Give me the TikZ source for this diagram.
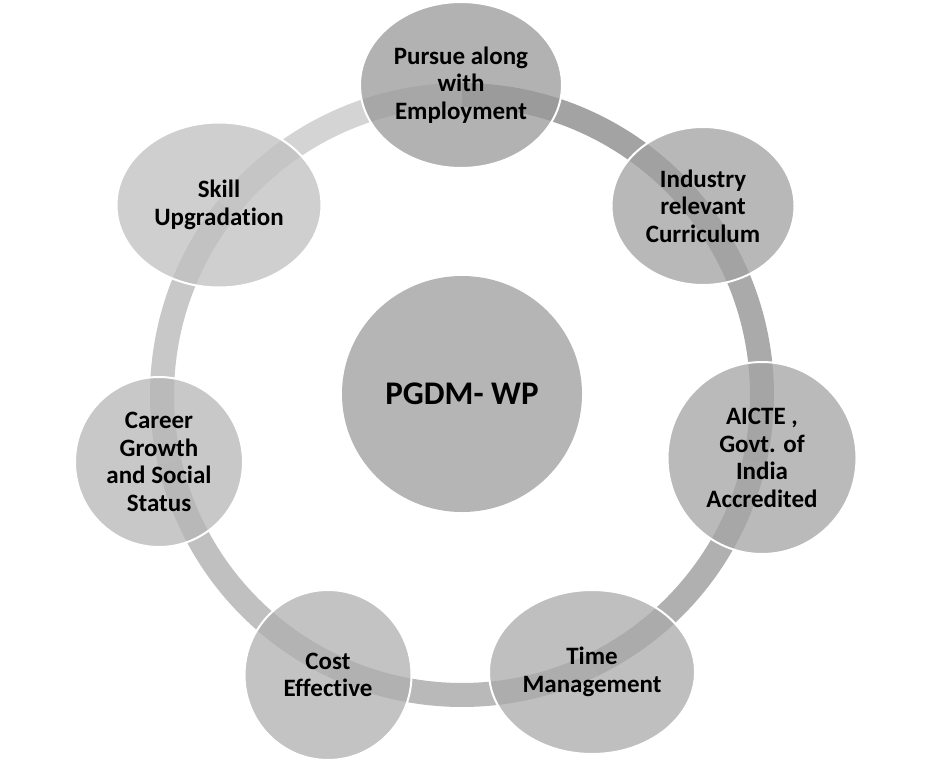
\documentclass[tikz,border=0pt]{standalone}
\usepackage{fontspec}
\setmainfont{Carlito}[Ligatures=NoCommon]
\usetikzlibrary{shapes.geometric}
\definecolor{segA}{gray}{0.64}
\definecolor{segB}{gray}{0.667}
\definecolor{segC}{gray}{0.69}
\definecolor{segD}{gray}{0.725}
\definecolor{segE}{gray}{0.753}
\definecolor{segF}{gray}{0.784}
\definecolor{segG}{gray}{0.831}
\definecolor{cPur}{gray}{0.6}
\definecolor{cInd}{gray}{0.63}
\definecolor{cAic}{gray}{0.645}
\definecolor{cTim}{gray}{0.665}
\definecolor{cCos}{gray}{0.686}
\definecolor{cCar}{gray}{0.712}
\definecolor{cSki}{gray}{0.754}
\definecolor{cCen}{gray}{0.71}
\tikzset{
  ringseg/.style={line width=24pt},
  bubble/.style={ellipse, draw=white, line width=2pt, fill opacity=0.75, text opacity=1,
    inner sep=0pt, outer sep=0pt, align=center,
    font=\fontsize{25}{27.5}\selectfont\bfseries, text=black},
  hub/.style={ellipse, fill=cCen, inner sep=0pt, outer sep=0pt,
    font=\fontsize{33}{36}\selectfont\bfseries, text=black}
}
\begin{document}
\begin{tikzpicture}[x=1pt,y=-1pt]
\useasboundingbox[fill=white] (0,0) rectangle (933,760);
\coordinate (rc) at (462,395);
% ring segments
\draw[ringseg, segA] (rc) ++(-90:300) arc[start angle=-90, end angle=-38.57, radius=300];
\draw[ringseg, segB] (rc) ++(-38.57:300) arc[start angle=-38.57, end angle=12.86, radius=300];
\draw[ringseg, segC] (rc) ++(12.86:300) arc[start angle=12.86, end angle=64.29, radius=300];
\draw[ringseg, segD] (rc) ++(64.29:300) arc[start angle=64.29, end angle=115.71, radius=300];
\draw[ringseg, segE] (rc) ++(115.71:300) arc[start angle=115.71, end angle=167.14, radius=300];
\draw[ringseg, segF] (rc) ++(167.14:300) arc[start angle=167.14, end angle=218.57, radius=300];
\draw[ringseg, segG] (rc) ++(218.57:300) arc[start angle=218.57, end angle=270, radius=300];
% hub
\node[hub, minimum width=240pt, minimum height=236pt] (hub) at (462,394) {PGDM- WP};
% bubbles
\node[bubble, fill=cPur, minimum width=202pt, minimum height=166pt] (pur) at (461,85) {Pursue along\\with\\Employment};
\node[bubble, fill=cInd, minimum width=183pt, minimum height=158pt] (ind) at (703,206) {Industry\\relevant\\Curriculum};
\node[bubble, fill=cAic, minimum width=189pt, minimum height=192pt] (aic) at (762,458) {AICTE ,\\Govt. of\\India\\Accredited};
\node[bubble, fill=cTim, minimum width=206pt, minimum height=164pt] (tim) at (592,672) {Time\\Management};
\node[bubble, fill=cCos, minimum width=167pt, minimum height=170pt] (cos) at (328,675) {Cost\\Effective};
\node[bubble, fill=cCar, minimum width=168pt, minimum height=170pt] (car) at (159,462) {Career\\Growth\\and Social\\Status};
\node[bubble, fill=cSki, minimum width=205pt, minimum height=165pt] (ski) at (219,205) {Skill\\Upgradation};
\end{tikzpicture}
\end{document}
